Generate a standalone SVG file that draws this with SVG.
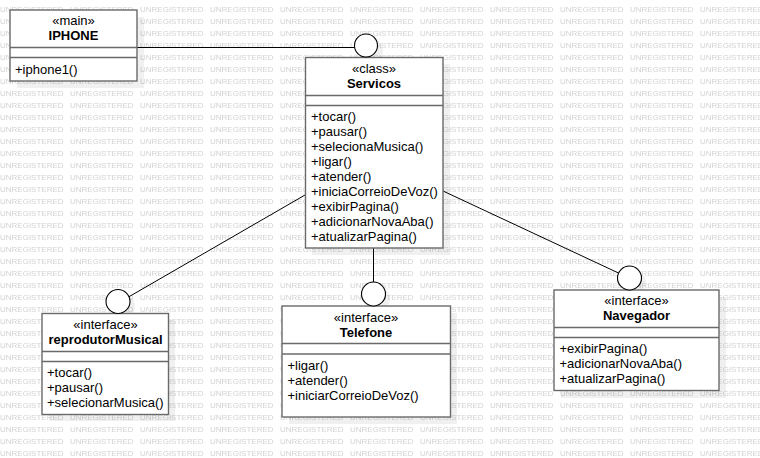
<svg xmlns="http://www.w3.org/2000/svg" width="760" height="458" viewBox="0 0 760 458">
<style>
.wm{font-family:"Liberation Sans",Arial,sans-serif;font-size:8px;fill:#d2d2d2}
.box{fill:#fff;stroke:#6a6a6a;stroke-width:1.4}
.sep{stroke:#6a6a6a;stroke-width:1.4}
.sh{fill:#000;fill-opacity:0.06}
.t{font-family:"Liberation Sans",Arial,sans-serif;font-size:13px;fill:#000}
.st{text-anchor:middle}
.b{font-weight:bold;text-anchor:middle}
.con{stroke:#000;stroke-width:1;fill:none}
.lol{fill:#fff;stroke:#000;stroke-width:1.1}
</style>
<defs>
<pattern id="wm" patternUnits="userSpaceOnUse" x="0" y="0" width="70" height="12">
<text class="wm" x="0" y="12">UNREGISTERED</text>
</pattern>
</defs>
<rect width="760" height="458" fill="#fff"/>
<rect width="760" height="458" fill="url(#wm)"/>

<g id="shadows">
<rect class="sh" x="17" y="17" width="127" height="71"/>
<rect class="sh" x="312" y="64" width="138" height="191"/>
<rect class="sh" x="49" y="320" width="126" height="101"/>
<rect class="sh" x="289" y="313" width="168" height="111"/>
<rect class="sh" x="561" y="297" width="165" height="101"/>
<circle class="sh" cx="371" cy="51" r="12"/>
<circle class="sh" cx="123" cy="306" r="12"/>
<circle class="sh" cx="378" cy="299" r="12"/>
<circle class="sh" cx="634" cy="283" r="12"/>
</g>

<g id="connectors">
<line class="con" x1="137" y1="47.5" x2="354.5" y2="47.5"/>
<line class="con" x1="305" y1="195" x2="128.5" y2="297"/>
<line class="con" x1="373.5" y1="248" x2="373.5" y2="282"/>
<line class="con" x1="443" y1="191" x2="618.5" y2="273"/>
</g>

<g id="IPHONE">
<rect class="box" x="10" y="10" width="127" height="71"/>
<line class="sep" x1="10" y1="47.5" x2="137" y2="47.5"/>
<line class="sep" x1="10" y1="57.5" x2="137" y2="57.5"/>
<text class="t st" x="73.5" y="25">«main»</text>
<text class="t b" x="73.5" y="40">IPHONE</text>
<text class="t" x="15" y="74">+iphone1()</text>
</g>

<g id="Servicos">
<rect class="box" x="305.5" y="57.5" width="137.5" height="190.5"/>
<line class="sep" x1="305.5" y1="95.5" x2="443" y2="95.5"/>
<line class="sep" x1="305.5" y1="105.5" x2="443" y2="105.5"/>
<text class="t st" x="374" y="73">«class»</text>
<text class="t b" x="374" y="88">Servicos</text>
<text class="t" x="311" y="120.5">+tocar()</text>
<text class="t" x="311" y="135.5">+pausar()</text>
<text class="t" x="311" y="150.5">+selecionaMusica()</text>
<text class="t" x="311" y="165.5">+ligar()</text>
<text class="t" x="311" y="180.5">+atender()</text>
<text class="t" x="311" y="195.5">+iniciaCorreioDeVoz()</text>
<text class="t" x="311" y="210.5">+exibirPagina()</text>
<text class="t" x="311" y="225.5">+adicionarNovaAba()</text>
<text class="t" x="311" y="240.5">+atualizarPagina()</text>
<circle class="lol" cx="366" cy="45.5" r="11.5"/>
</g>

<g id="reprodutorMusical">
<rect class="box" x="42" y="313.5" width="126.5" height="101"/>
<line class="sep" x1="42" y1="351.5" x2="168.5" y2="351.5"/>
<line class="sep" x1="42" y1="361.5" x2="168.5" y2="361.5"/>
<text class="t st" x="105.5" y="329">«interface»</text>
<text class="t b" x="105.5" y="344">reprodutorMusical</text>
<text class="t" x="47" y="377">+tocar()</text>
<text class="t" x="47" y="392">+pausar()</text>
<text class="t" x="47" y="407">+selecionarMusica()</text>
<circle class="lol" cx="118" cy="301.5" r="12"/>
</g>

<g id="Telefone">
<rect class="box" x="282" y="306" width="168.5" height="111"/>
<line class="sep" x1="282" y1="343.5" x2="450.5" y2="343.5"/>
<line class="sep" x1="282" y1="354" x2="450.5" y2="354"/>
<text class="t st" x="366" y="322">«interface»</text>
<text class="t b" x="366" y="337">Telefone</text>
<text class="t" x="287.5" y="370">+ligar()</text>
<text class="t" x="287.5" y="385">+atender()</text>
<text class="t" x="287.5" y="400">+iniciarCorreioDeVoz()</text>
<circle class="lol" cx="373.5" cy="294" r="12"/>
</g>

<g id="Navegador">
<rect class="box" x="554" y="290" width="165" height="100.5"/>
<line class="sep" x1="554" y1="327.5" x2="719" y2="327.5"/>
<line class="sep" x1="554" y1="337.5" x2="719" y2="337.5"/>
<text class="t st" x="636.5" y="305">«interface»</text>
<text class="t b" x="636.5" y="320">Navegador</text>
<text class="t" x="559.5" y="353">+exibirPagina()</text>
<text class="t" x="559.5" y="368">+adicionarNovaAba()</text>
<text class="t" x="559.5" y="383">+atualizarPagina()</text>
<circle class="lol" cx="629.5" cy="278" r="12"/>
</g>
</svg>
